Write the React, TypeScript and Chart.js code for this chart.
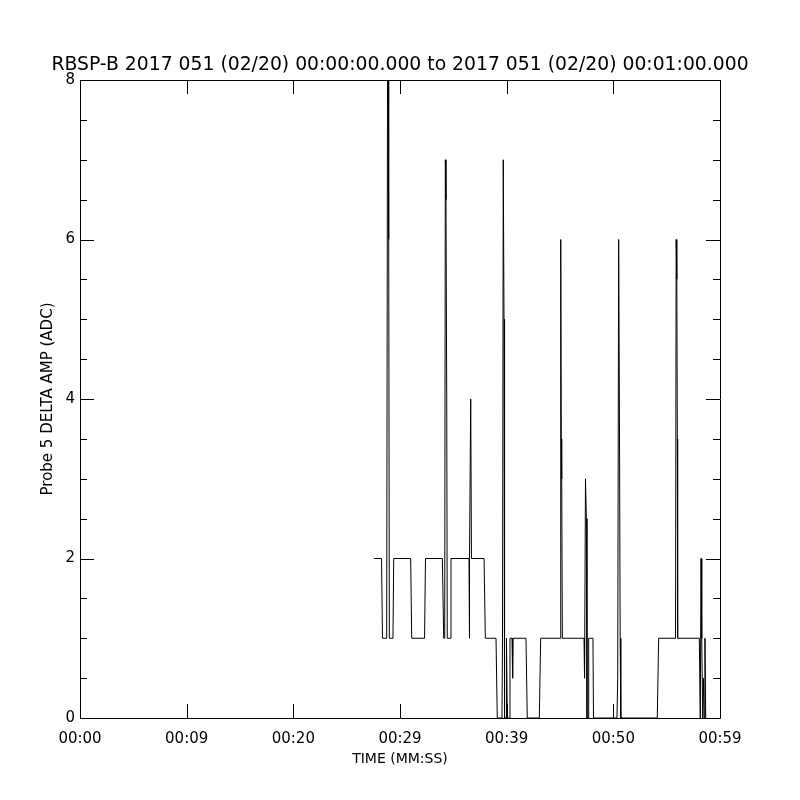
import React, { useEffect, useRef } from "react";
import { Chart, registerables } from "chart.js";

Chart.register(...registerables);

const TITLE = "RBSP-B 2017 051 (02/20) 00:00:00.000 to 2017 051 (02/20) 00:01:00.000";
const X_TITLE = "TIME (MM:SS)";
const Y_TITLE = "Probe 5 DELTA AMP (ADC)";

const X_TICK_VALUES = [0, 10, 20, 30, 40, 50, 60];
const X_TICK_LABELS = ["00:00", "00:09", "00:20", "00:29", "00:39", "00:50", "00:59"];
const Y_TICK_VALUES = [0, 2, 4, 6, 8];
const Y_MINOR_STEP = 0.5;

// time in seconds
const times = [
  27.56, 28.27, 28.36, 28.75, 28.83, 28.9, 28.94, 29.0, 29.34, 29.41,
  31.0, 31.1, 32.3, 32.39, 33.97, 34.1, 34.19, 34.25, 34.31, 34.38,
  34.43, 34.72, 34.78, 36.47, 36.5, 36.53, 36.63, 36.7, 37.88, 38.0,
  39.0, 39.12, 39.56, 39.61, 39.68, 39.75, 39.8, 39.94, 39.98, 40.06,
  40.22, 40.31, 40.5, 40.56, 40.6, 41.81, 41.93, 43.06, 43.19, 45.0,
  45.07, 45.12, 45.16, 45.22, 47.25, 47.3, 47.39, 47.47, 47.53, 47.63,
  47.69, 48.09, 48.14, 50.34, 50.41, 50.5, 50.58, 50.64, 50.7, 54.12,
  54.25, 55.83, 55.89, 55.95, 56.0, 56.03, 58.06, 58.15, 58.22, 58.27,
  58.31, 58.38, 58.45, 58.52, 58.59, 58.66,
];
// ADC values
const amps = [
  2, 2, 1, 1, 8, 8, 6, 1, 1, 2,
  2, 1, 1, 2, 2, 1, 1, 7, 6.5, 4,
  1, 1, 2, 2, 1, 2, 4, 2, 2, 1,
  1, 0, 0, 1, 7, 5, 0, 0, 1, 0,
  0, 1, 1, 0.5, 1, 1, 0, 0, 1, 1,
  6, 3.5, 3, 1, 1, 0.5, 3, 2.5, 0, 0,
  1, 1, 0, 0, 0.5, 6, 3.5, 1, 0, 0,
  1, 1, 6, 5.5, 3.5, 1, 1, 0, 2, 1.5,
  1, 0, 0.5, 0, 1, 0,
];

const FONT = "'DejaVu Sans', sans-serif";

const framePlugin = {
  id: "frame",
  afterDraw(chart: any) {
    const { ctx, chartArea } = chart;
    const { left, right, top, bottom } = chartArea;
    const xs = chart.scales.x;
    const ys = chart.scales.y;
    ctx.save();
    ctx.strokeStyle = "#000";
    ctx.lineWidth = 1;
    ctx.beginPath();
    ctx.rect(Math.round(left) + 0.5, Math.round(top) + 0.5, Math.round(right - left), Math.round(bottom - top));
    ctx.stroke();
    // y ticks (inward, both sides)
    const yMin = ys.min, yMax = ys.max;
    for (let v = yMin; v <= yMax + 1e-9; v += Y_MINOR_STEP) {
      const isMajor = Y_TICK_VALUES.some((m) => Math.abs(m - v) < 1e-9);
      const len = isMajor ? 14 : 7;
      const py = Math.round(ys.getPixelForValue(v)) + 0.5;
      ctx.beginPath();
      ctx.moveTo(left, py);
      ctx.lineTo(left + len, py);
      ctx.moveTo(right, py);
      ctx.lineTo(right - len, py);
      ctx.stroke();
    }
    // x ticks (inward, top and bottom)
    for (const v of X_TICK_VALUES) {
      const px = Math.round(xs.getPixelForValue(v)) + 0.5;
      ctx.beginPath();
      ctx.moveTo(px, bottom);
      ctx.lineTo(px, bottom - 14);
      ctx.moveTo(px, top);
      ctx.lineTo(px, top + 14);
      ctx.stroke();
    }
    // main title
    ctx.fillStyle = "#000";
    ctx.font = `18.8px ${FONT}`;
    ctx.textAlign = "center";
    ctx.textBaseline = "middle";
    ctx.fillText(TITLE, (left + right) / 2, 65);
    ctx.restore();
  },
};

export default function App() {
  const canvasRef = useRef<HTMLCanvasElement | null>(null);

  useEffect(() => {
    const canvas = canvasRef.current;
    if (!canvas) return;
    const data = times.map((t, i) => ({ x: t, y: amps[i] }));
    const chart = new Chart(canvas, {
      type: "line",
      data: {
        datasets: [
          {
            data,
            borderColor: "#000",
            borderWidth: 1,
            pointRadius: 0,
            tension: 0,
            fill: false,
          },
        ],
      },
      options: {
        animation: false,
        responsive: false,
        devicePixelRatio: 1,
        layout: { padding: { top: 80, right: 80, left: 0, bottom: 0 } },
        plugins: {
          legend: { display: false },
          title: { display: false },
          tooltip: { enabled: false },
        },
        scales: {
          x: {
            type: "linear",
            min: 0,
            max: 60,
            afterFit: (scale: any) => {
              scale.height = 82;
            },
            afterBuildTicks: (scale: any) => {
              scale.ticks = X_TICK_VALUES.map((v) => ({ value: v }));
            },
            grid: { display: false, drawTicks: false },
            border: { display: false },
            ticks: {
              padding: 12,
              color: "#000",
              font: { family: FONT, size: 15 },
              maxRotation: 0,
              autoSkip: false,
              callback: (value: any) => {
                const i = X_TICK_VALUES.indexOf(Number(value));
                return i >= 0 ? X_TICK_LABELS[i] : "";
              },
            },
            title: {
              display: true,
              text: X_TITLE,
              color: "#000",
              font: { family: FONT, size: 14 },
              padding: { top: 0, bottom: 32 },
            },
          },
          y: {
            type: "linear",
            min: 0,
            max: 8,
            afterFit: (scale: any) => {
              scale.width = 80;
            },
            afterBuildTicks: (scale: any) => {
              scale.ticks = Y_TICK_VALUES.map((v) => ({ value: v }));
            },
            grid: { display: false, drawTicks: false },
            border: { display: false },
            ticks: {
              padding: 5,
              color: "#000",
              font: { family: FONT, size: 15 },
              callback: (value: any) => String(value),
            },
            title: {
              display: true,
              text: Y_TITLE,
              color: "#000",
              font: { family: FONT, size: 15 },
              padding: { top: 39, bottom: 0 },
            },
          },
        },
      },
      plugins: [framePlugin],
    });
    return () => chart.destroy();
  }, []);

  return (
    <div style={{ position: "fixed", left: 0, top: 0, width: 800, height: 800, background: "#fff" }}>
      <canvas ref={canvasRef} width={800} height={800} style={{ width: 800, height: 800, display: "block" }} />
    </div>
  );
}
